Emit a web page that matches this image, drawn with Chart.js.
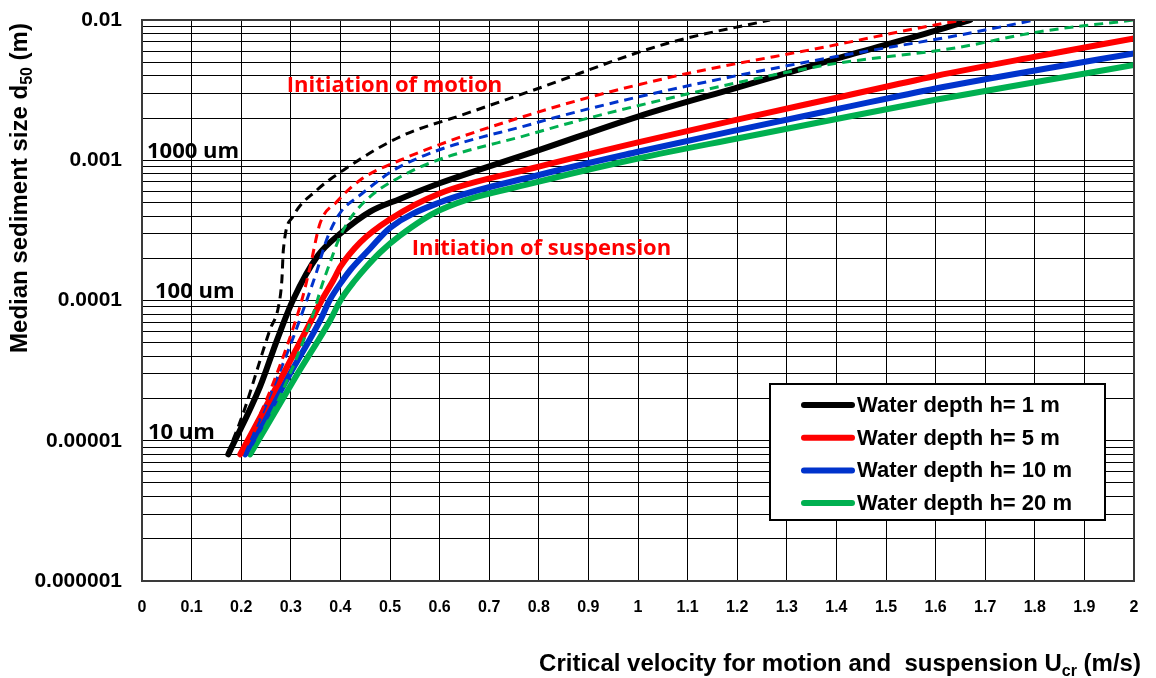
<!DOCTYPE html>
<html>
<head>
<meta charset="utf-8">
<script src="https://cdn.jsdelivr.net/npm/chart.js@4.4.0/dist/chart.umd.min.js"></script>
<style>
  html, body { margin: 0; padding: 0; background: #fff; }
  #wrap { width: 1156px; height: 678px; }
</style>
</head>
<body>
<div id="wrap"><canvas id="chart" width="1156" height="678"></canvas></div>
<script>
// y axis labels (decades only)
const yTickValues = [0.000001, 0.00001, 0.0001, 0.001, 0.01];
const yTickLabels = ['0.000001', '0.00001', '0.0001', '0.001', '0.01'];

// Initiation of suspension (solid lines), u in m/s, d50 in m
const uSusp1 = [0.174, 0.238, 0.272, 0.304, 0.355, 0.40, 0.46, 0.52, 0.60, 0.80, 1.00, 1.20, 1.40, 1.60, 1.67];
const dSusp1 = [8e-6, 2.43e-5, 5.2e-5, 1.0e-4, 2.1e-4, 3.0e-4, 4.3e-4, 5.3e-4, 6.85e-4, 1.18e-3, 2.05e-3, 3.3e-3, 5.3e-3, 8.4e-3, 1.0e-2];
const uSusp5 = [0.198, 0.282, 0.342, 0.362, 0.386, 0.40, 0.44, 0.50, 0.60, 0.80, 1.00, 1.20, 1.40, 1.60, 1.80, 2.00];
const dSusp5 = [8e-6, 2.86e-5, 7.3e-5, 1.0e-4, 1.4e-4, 1.74e-4, 2.6e-4, 3.8e-4, 5.8e-4, 9.0e-4, 1.34e-3, 1.95e-3, 2.79e-3, 3.99e-3, 5.47e-3, 7.4e-3];
const uSusp10 = [0.208, 0.295, 0.36, 0.378, 0.405, 0.42, 0.46, 0.50, 0.60, 0.80, 1.00, 1.20, 1.40, 1.60, 1.80, 2.00];
const dSusp10 = [8e-6, 2.86e-5, 7.3e-5, 1.0e-4, 1.4e-4, 1.65e-4, 2.35e-4, 3.3e-4, 5.0e-4, 7.85e-4, 1.15e-3, 1.64e-3, 2.31e-3, 3.25e-3, 4.37e-3, 5.78e-3];
const uSusp20 = [0.218, 0.31, 0.38, 0.40, 0.43, 0.45, 0.48, 0.52, 0.60, 0.80, 1.00, 1.20, 1.40, 1.60, 1.80, 2.00];
const dSusp20 = [8e-6, 2.86e-5, 7.3e-5, 1.0e-4, 1.4e-4, 1.7e-4, 2.2e-4, 2.9e-4, 4.4e-4, 7.03e-4, 1.03e-3, 1.43e-3, 1.97e-3, 2.7e-3, 3.6e-3, 4.78e-3];

// Initiation of motion (dashed lines)
const uMot1 = [0.172, 0.204, 0.258, 0.275, 0.282, 0.285, 0.305, 0.352, 0.406, 0.52, 0.65, 0.79, 1.058, 1.266];
const dMot1 = [8e-6, 1.57e-5, 6.2e-5, 9.0e-5, 1.4e-4, 2.3e-4, 4.0e-4, 6.1e-4, 8.5e-4, 1.47e-3, 2.13e-3, 3.17e-3, 6.8e-3, 1.0e-2];
const uMot5 = [0.198, 0.245, 0.292, 0.322, 0.339, 0.359, 0.393, 0.44, 0.52, 0.79, 1.05, 1.38, 1.636, 1.66];
const dMot5 = [8e-6, 1.75e-5, 4.7e-5, 1.0e-4, 1.74e-4, 3.55e-4, 5.07e-4, 7.23e-4, 1.0e-3, 2.16e-3, 3.8e-3, 6.45e-3, 9.73e-3, 1.0e-2];
const uMot10 = [0.208, 0.298, 0.332, 0.352, 0.372, 0.399, 0.44, 0.52, 0.79, 1.05, 1.38, 1.649, 1.80];
const dMot10 = [8e-6, 4.7e-5, 1.0e-4, 1.6e-4, 2.7e-4, 4.19e-4, 5.65e-4, 9.0e-4, 1.83e-3, 3.1e-3, 5.33e-3, 7.82e-3, 1.0e-2];
const uMot20 = [0.218, 0.278, 0.345, 0.362, 0.38, 0.40, 0.433, 0.52, 0.79, 1.05, 1.38, 1.636, 1.81, 2.00];
const dMot20 = [8e-6, 2.06e-5, 8.0e-5, 1.26e-4, 1.9e-4, 2.9e-4, 4.42e-4, 7.6e-4, 1.56e-3, 2.7e-3, 4.78e-3, 6.29e-3, 8.26e-3, 1.0e-2];

const depthLabels = ['Water depth h= 1 m', 'Water depth h= 5 m', 'Water depth h= 10 m', 'Water depth h= 20 m'];
const depthColors = ['#000000', '#ff0000', '#0033cc', '#00b050'];

const FONT = "'Liberation Sans', Arial, sans-serif";
const NOTE_FONT = "'Open Sans', " + FONT;

function pts(us, ds) {
  return us.map((u, i) => ({ x: u, y: ds[i] }));
}

function dashed(data, color) {
  return { data, borderColor: color, borderWidth: 3, borderDash: [9, 6], pointRadius: 0, fill: false,
    cubicInterpolationMode: 'monotone' };
}
function solid(data, color) {
  return { data, borderColor: color, borderWidth: 6, pointRadius: 0, fill: false,
    cubicInterpolationMode: 'monotone', borderCapStyle: 'round' };
}

// draw text with optional subscript pieces
function drawRich(ctx, parts, x, y, size, align) {
  const subSize = Math.round(size * 0.65);
  let total = 0;
  parts.forEach(p => {
    ctx.font = 'bold ' + (p.sub ? subSize : size) + 'px ' + FONT;
    p.w = ctx.measureText(p.t).width;
    total += p.w;
  });
  let cx = align === 'center' ? x - total / 2 : x;
  ctx.textAlign = 'left';
  ctx.textBaseline = 'alphabetic';
  parts.forEach(p => {
    ctx.font = 'bold ' + (p.sub ? subSize : size) + 'px ' + FONT;
    ctx.fillText(p.t, cx, p.sub ? y + size * 0.2 : y);
    cx += p.w;
  });
}

const extras = {
  id: 'extras',
  afterDatasetsDraw(chart) {
    const { ctx, chartArea: a, scales } = chart;
    const xs = scales.x, ys = scales.y;
    ctx.save();
    // plot frame
    ctx.strokeStyle = '#3a3a3a';
    ctx.lineWidth = 2;
    ctx.strokeRect(a.left, a.top, a.right - a.left, a.bottom - a.top);

    // annotations
    ctx.textAlign = 'left';
    ctx.textBaseline = 'alphabetic';
    ctx.fillStyle = '#ff0000';
    ctx.font = 'bold 22px ' + NOTE_FONT;
    ctx.fillText('Initiation of motion', xs.getPixelForValue(0.292), ys.getPixelForValue(3.07e-3));
    ctx.fillText('Initiation of suspension', xs.getPixelForValue(0.544), ys.getPixelForValue(2.11e-4));
    ctx.fillStyle = '#000000';
    ctx.fillText('1000 um', a.left + 5, ys.getPixelForValue(0.001) - 2);
    ctx.fillText('100 um', a.left + 13, ys.getPixelForValue(0.0001) - 3);
    ctx.fillText('10 um', a.left + 6, ys.getPixelForValue(0.00001) - 2);

    // legend box
    const lx = 770, ly = 384, lw = 335, lh = 136;
    ctx.fillStyle = '#ffffff';
    ctx.fillRect(lx, ly, lw, lh);
    ctx.strokeStyle = '#000000';
    ctx.lineWidth = 2;
    ctx.strokeRect(lx, ly, lw, lh);
    ctx.font = 'bold 22px ' + FONT;
    ctx.textBaseline = 'middle';
    depthLabels.forEach((t, i) => {
      const cy = ly + 21 + i * 32.7;
      ctx.strokeStyle = depthColors[i];
      ctx.lineWidth = 6;
      ctx.lineCap = 'round';
      ctx.beginPath();
      ctx.moveTo(lx + 34, cy);
      ctx.lineTo(lx + 82, cy);
      ctx.stroke();
      ctx.fillStyle = '#000000';
      ctx.fillText(t, lx + 87, cy + 1);
    });
    ctx.restore();
  },
  afterDraw(chart) {
    const { ctx } = chart;
    ctx.save();
    ctx.fillStyle = '#000000';
    drawRich(ctx, [{ t: 'Critical velocity for motion and  suspension U' }, { t: 'cr', sub: true }, { t: ' (m/s)' }],
      840, 671, 24, 'center');
    ctx.translate(27, 188);
    ctx.rotate(-Math.PI / 2);
    drawRich(ctx, [{ t: 'Median sediment size d' }, { t: '50', sub: true }, { t: ' (m)' }], 0, 0, 24, 'center');
    ctx.restore();
  }
};

const ctx = document.getElementById('chart').getContext('2d');
new Chart(ctx, {
  type: 'line',
  data: {
    datasets: [
      dashed(pts(uMot1, dMot1), depthColors[0]),
      dashed(pts(uMot5, dMot5), depthColors[1]),
      dashed(pts(uMot10, dMot10), depthColors[2]),
      dashed(pts(uMot20, dMot20), depthColors[3]),
      solid(pts(uSusp1, dSusp1), depthColors[0]),
      solid(pts(uSusp5, dSusp5), depthColors[1]),
      solid(pts(uSusp10, dSusp10), depthColors[2]),
      solid(pts(uSusp20, dSusp20), depthColors[3])
    ]
  },
  options: {
    responsive: false,
    animation: false,
    devicePixelRatio: 1,
    layout: { padding: { top: 20, right: 22, left: 0, bottom: 0 } },
    plugins: { legend: { display: false }, tooltip: { enabled: false } },
    scales: {
      x: {
        type: 'linear',
        min: 0,
        max: 2,
        afterFit: s => {
          s.height = 97;
          s.paddingLeft = 0;
          s.paddingRight = 0;
        },
        ticks: {
          stepSize: 0.1,
          autoSkip: false,
          maxRotation: 0,
          padding: 17,
          color: '#000',
          font: { family: FONT, size: 16, weight: 'bold' },
          callback: v => String(Number(v.toFixed(1)))
        },
        grid: { color: '#000', lineWidth: 1, drawTicks: false },
        border: { display: false }
      },
      y: {
        type: 'logarithmic',
        min: 0.000001,
        max: 0.01,
        afterFit: s => {
          s.width = 142;
          s.paddingTop = 0;
          s.paddingBottom = 0;
        },
        afterBuildTicks: s => {
          const t = [];
          for (let k = -6; k <= -3; k++) {
            for (let m = 1; m <= 9; m++) t.push({ value: m * Math.pow(10, k) });
          }
          t.push({ value: 0.01 });
          s.ticks = t;
        },
        ticks: {
          autoSkip: false,
          padding: 20,
          color: '#000',
          font: { family: FONT, size: 21, weight: 'bold' },
          callback: v => {
            const i = yTickValues.findIndex(tv => Math.abs(Math.log10(tv) - Math.log10(v)) < 1e-6);
            return i >= 0 ? yTickLabels[i] : '';
          }
        },
        grid: { color: '#000', lineWidth: 1, drawTicks: false },
        border: { display: false }
      }
    }
  },
  plugins: [extras]
});
</script>
</body>
</html>
